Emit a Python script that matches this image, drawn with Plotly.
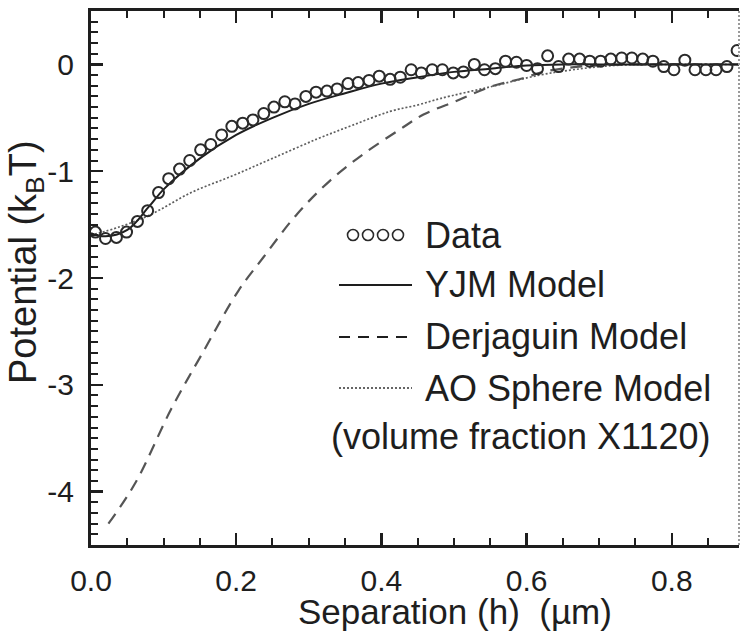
import plotly.graph_objects as go

# ---------------- data ----------------
data_x = [0.006, 0.020, 0.035, 0.049, 0.064, 0.078, 0.093, 0.107, 0.122, 0.136,
          0.151, 0.165, 0.180, 0.194, 0.209, 0.223, 0.238, 0.252, 0.267, 0.281,
          0.296, 0.310, 0.325, 0.339, 0.354, 0.368, 0.383, 0.397, 0.412, 0.426,
          0.441, 0.455, 0.470, 0.484, 0.499, 0.513, 0.528, 0.542, 0.557, 0.571,
          0.586, 0.600, 0.615, 0.629, 0.644, 0.658, 0.673, 0.687, 0.702, 0.716,
          0.731, 0.745, 0.760, 0.774, 0.789, 0.803, 0.818, 0.832, 0.847, 0.861,
          0.876, 0.890]
data_y = [-1.57, -1.63, -1.62, -1.57, -1.47, -1.37, -1.20, -1.07, -0.98, -0.90,
          -0.80, -0.75, -0.66, -0.58, -0.55, -0.52, -0.46, -0.40, -0.35, -0.37,
          -0.30, -0.26, -0.25, -0.23, -0.18, -0.17, -0.15, -0.11, -0.14, -0.12,
          -0.05, -0.08, -0.05, -0.05, -0.08, -0.07, 0.00, -0.05, -0.04, 0.03,
          0.02, -0.01, -0.04, 0.08, -0.02, 0.05, 0.05, 0.03, 0.03, 0.05,
          0.06, 0.06, 0.05, 0.03, -0.02, -0.05, 0.04, -0.05, -0.05, -0.05,
          -0.02, 0.13]

yjm_x = [0.0, 0.02, 0.05, 0.08, 0.10, 0.15, 0.20, 0.25, 0.30, 0.35, 0.40, 0.45,
         0.50, 0.55, 0.60, 0.65, 0.70, 0.80, 0.893]
yjm_y = [-1.58, -1.61, -1.55, -1.33, -1.17, -0.88, -0.66, -0.50, -0.37, -0.27,
         -0.18, -0.12, -0.07, -0.04, -0.01, 0.0, 0.0, 0.0, 0.0]

derj_x = [0.024, 0.061, 0.111, 0.153, 0.203, 0.237, 0.284, 0.329, 0.375, 0.423,
          0.458, 0.504, 0.550, 0.595, 0.623, 0.660, 0.700, 0.750, 0.893]
derj_y = [-4.30, -3.92, -3.22, -2.71, -2.12, -1.81, -1.40, -1.09, -0.84, -0.62,
          -0.47, -0.34, -0.21, -0.13, -0.07, -0.03, -0.01, 0.0, 0.0]

ao_x = [0.0, 0.04, 0.081, 0.138, 0.196, 0.250, 0.311, 0.360, 0.412, 0.450,
        0.481, 0.550, 0.618, 0.664, 0.720, 0.780, 0.893]
ao_y = [-1.60, -1.52, -1.41, -1.20, -1.04, -0.88, -0.70, -0.57, -0.44, -0.38,
        -0.32, -0.21, -0.10, -0.05, -0.01, 0.0, 0.0]

x_tickvals = [0.0, 0.2, 0.4, 0.6, 0.8]
x_ticktext = ["0.0", "0.2", "0.4", "0.6", "0.8"]
y_tickvals = [0, -1, -2, -3, -4]
y_ticktext = ["0", "-1", "-2", "-3", "-4"]

legend_labels = ["Data", "YJM Model", "Derjaguin Model", "AO Sphere Model"]
legend_note = "(volume fraction X1120)"

# ---------------- layout geometry (pixels) ----------------
W, H = 740, 643
L, R, T, B = 91, 739, 11, 545
FONT = "Liberation Sans, Arial, Helvetica, sans-serif"
INK = "#1e1e1e"
MK = "#2a2a2a"


def px(p):
    return (p - L) / (R - L)


def py(p):
    return (B - p) / (B - T)


fig = go.Figure()

fig.add_trace(go.Scatter(x=ao_x, y=ao_y, mode="lines", line_shape="spline",
                         line=dict(color="#5e5e5e", width=1.7, dash="2px,2px"),
                         showlegend=False))
fig.add_trace(go.Scatter(x=derj_x, y=derj_y, mode="lines", line_shape="spline",
                         line=dict(color="#555555", width=2.2, dash="12px,8px"),
                         showlegend=False))
fig.add_trace(go.Scatter(x=yjm_x, y=yjm_y, mode="lines", line_shape="spline",
                         line=dict(color=INK, width=2),
                         showlegend=False))
fig.add_trace(go.Scatter(x=data_x, y=data_y, mode="markers",
                         marker=dict(symbol="circle-open", size=11, color=MK,
                                     line=dict(color=MK, width=2)),
                         showlegend=False))

# legend sample circles on a pixel-space overlay axis
leg_rows = [235, 285, 337, 388]
fig.add_trace(go.Scatter(x=[353, 368, 383, 398], y=[leg_rows[0]] * 4,
                         mode="markers", xaxis="x2", yaxis="y2",
                         marker=dict(symbol="circle-open", size=11, color=MK,
                                     line=dict(color=MK, width=1.6)),
                         showlegend=False, hoverinfo="skip"))

shapes = []
shapes.append(dict(type="line", xref="paper", yref="paper",
                   x0=px(339), x1=px(412), y0=py(leg_rows[1]), y1=py(leg_rows[1]),
                   line=dict(color=INK, width=2.2)))
shapes.append(dict(type="line", xref="paper", yref="paper",
                   x0=px(339), x1=px(412), y0=py(leg_rows[2]), y1=py(leg_rows[2]),
                   line=dict(color=INK, width=2.2, dash="11px,8px")))
shapes.append(dict(type="line", xref="paper", yref="paper",
                   x0=px(339), x1=px(412), y0=py(leg_rows[3]), y1=py(leg_rows[3]),
                   line=dict(color="#333333", width=1.6, dash="2px,2px")))
# cropped right border (dotted grey)
shapes.append(dict(type="line", xref="paper", yref="paper",
                   x0=1, x1=1, y0=0, y1=1,
                   line=dict(color="#9a9a9a", width=2, dash="2px,2px")))

annotations = []
for lab, yy in zip(legend_labels, leg_rows):
    annotations.append(dict(text=lab, xref="paper", yref="paper",
                            x=px(423), y=py(yy), xanchor="left", yanchor="middle",
                            showarrow=False, font=dict(family=FONT, size=36, color=INK)))
annotations.append(dict(text=legend_note, xref="paper", yref="paper",
                        x=px(521), y=py(436), xanchor="center", yanchor="middle",
                        showarrow=False, font=dict(family=FONT, size=36, color=INK)))
annotations.append(dict(text="Separation (h)  (µm)", xref="paper", yref="paper",
                        x=px(455), y=py(611), xanchor="center", yanchor="middle",
                        showarrow=False, font=dict(family=FONT, size=35, color=INK)))
annotations.append(dict(text="Potential (k<sub>B</sub>T)", xref="paper", yref="paper",
                        x=px(26), y=py(262), xanchor="center", yanchor="middle",
                        textangle=-90, showarrow=False,
                        font=dict(family=FONT, size=38, color=INK)))

fig.update_layout(
    template="none",
    width=W, height=H,
    margin=dict(l=L, r=W - R, t=T, b=H - B, pad=0, autoexpand=False),
    paper_bgcolor="white", plot_bgcolor="white",
    font=dict(family=FONT, color=INK),
    showlegend=False,
    shapes=shapes,
    annotations=annotations,
    xaxis=dict(range=[0, 0.8926], tickmode="array", tickvals=x_tickvals,
               ticktext=x_ticktext, ticks="inside", ticklen=12, tickwidth=2.5,
               tickcolor=INK, showline=True, linewidth=3, linecolor=INK,
               mirror="ticks", showgrid=False, zeroline=False, automargin=False,
               tickfont=dict(family=FONT, size=30, color=INK),
               ticklabelstandoff=7,
               minor=dict(dtick=0.05, tick0=0, ticks="inside", ticklen=7,
                          tickwidth=2, tickcolor=INK, showgrid=False)),
    yaxis=dict(range=[-4.5, 0.5], tickmode="array", tickvals=y_tickvals,
               ticktext=y_ticktext, ticks="inside", ticklen=12, tickwidth=2.5,
               tickcolor=INK, showline=True, linewidth=3, linecolor=INK,
               mirror=False, showgrid=False, zeroline=False, automargin=False,
               tickfont=dict(family=FONT, size=30, color=INK),
               ticklabelstandoff=8,
               minor=dict(dtick=0.1, tick0=0, ticks="inside", ticklen=7,
                          tickwidth=2, tickcolor=INK, showgrid=False)),
    xaxis2=dict(overlaying="x", range=[L, R], visible=False, anchor="y2"),
    yaxis2=dict(overlaying="y", range=[B, T], visible=False, anchor="x2"),
)

fig.write_html("out.html",
               config={"displayModeBar": False, "staticPlot": True},
               post_script="document.body.style.margin='0px';"
                           "document.body.style.padding='0px';")
